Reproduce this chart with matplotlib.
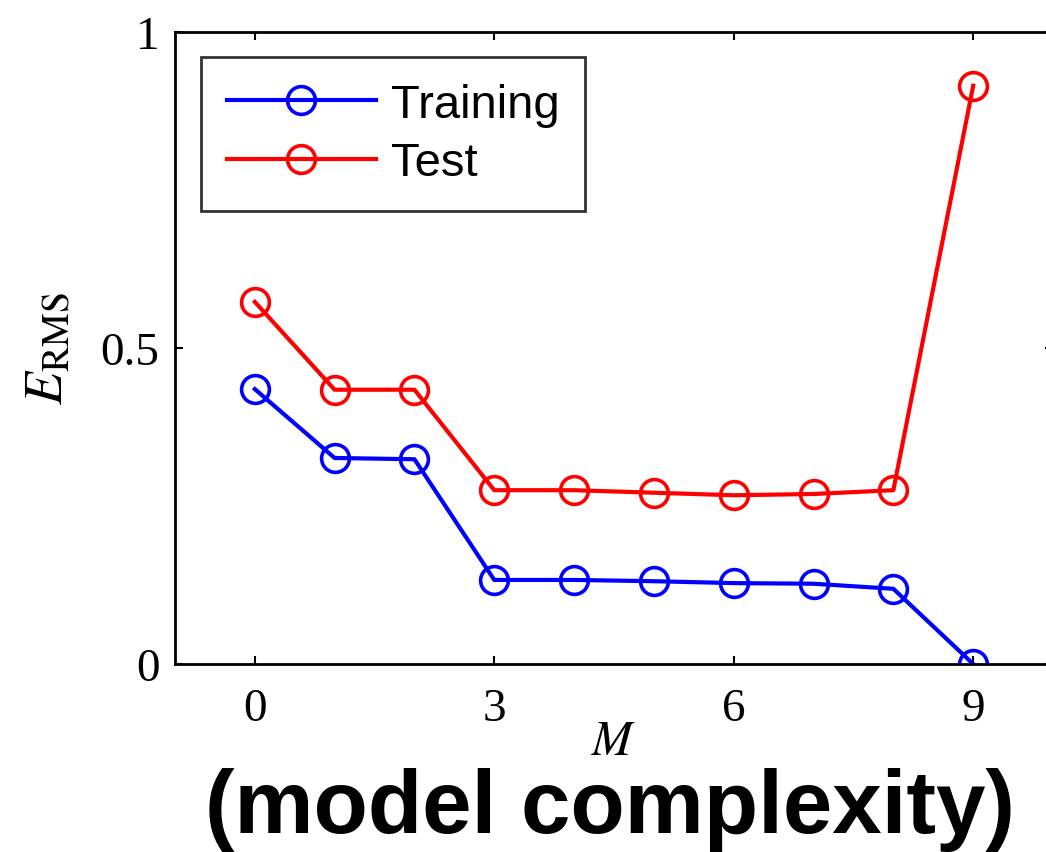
import matplotlib.pyplot as plt

# ошибка на обучающей и тестовой выборке в зависимости от степени полинома M
M = [0, 1, 2, 3, 4, 5, 6, 7, 8, 9]
train_err = [0.435, 0.326, 0.324, 0.133, 0.133, 0.131, 0.128, 0.127, 0.119, 0.0]
test_err = [0.573, 0.434, 0.434, 0.275, 0.275, 0.271, 0.267, 0.269, 0.275, 0.915]

x_ticks = [0, 3, 6, 9]
y_ticks = [0, 0.5, 1]
y_tick_labels = ['0', '0.5', '1']

plt.rcParams['mathtext.fontset'] = 'stix'

fig = plt.figure(figsize=(10.46, 8.53), dpi=100)
ax = fig.add_axes([0.1673, 0.2204, 0.8394, 0.7409])

style = dict(linewidth=3, marker='o', markersize=20, markerfacecolor='none',
             markeredgewidth=2.6)
ax.plot(M, train_err, color='#0000ff', label='Training', **style)
ax.plot(M, test_err, color='#ff0000', label='Test', **style)

ax.set_xlim(-1, 10)
ax.set_ylim(0, 1)
ax.set_xticks(x_ticks)
ax.set_yticks(y_ticks)
ax.set_yticklabels(y_tick_labels)
for spine in ax.spines.values():
    spine.set_linewidth(2)
ax.tick_params(direction='in', top=True, right=True, length=6, width=1.5,
               labelsize=34)
ax.tick_params(axis='x', pad=17)
ax.tick_params(axis='y', pad=11)
for lbl in ax.get_xticklabels() + ax.get_yticklabels():
    lbl.set_family('Liberation Serif')

ax.set_xlabel('$M$', fontsize=35, labelpad=-10)
ax.set_ylabel(r'$E_{\mathrm{RMS}}$', fontsize=39, labelpad=20)

leg = ax.legend(loc='upper left', bbox_to_anchor=(0.192, 0.932),
                bbox_transform=fig.transFigure, borderaxespad=0,
                fancybox=False, edgecolor='#333333', framealpha=1,
                handlelength=3.15, handletextpad=0.32, borderpad=0.55,
                labelspacing=0.3, prop={'family': 'Liberation Sans', 'size': 34})
leg.get_frame().set_linewidth(2)

fig.text(0.583, 0.024, '(model complexity)', ha='center', va='baseline',
         fontsize=64, fontweight='bold', family='Liberation Sans')

fig.savefig('out.png', dpi=100)
